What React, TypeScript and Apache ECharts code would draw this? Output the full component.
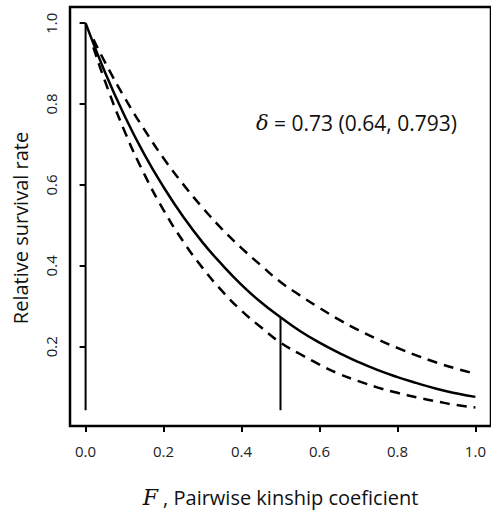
import React, { useEffect, useRef } from "react";
import * as echarts from "echarts";

const kinship = [0, 0.05, 0.1, 0.15, 0.2, 0.25, 0.3, 0.35, 0.4, 0.45, 0.5, 0.55, 0.6, 0.65, 0.7, 0.75, 0.8, 0.85, 0.9, 0.95, 1.0];
const survival = [1.0, 0.878, 0.771, 0.677, 0.595, 0.522, 0.458, 0.403, 0.353, 0.310, 0.273, 0.239, 0.210, 0.185, 0.162, 0.142, 0.125, 0.110, 0.096, 0.085, 0.076];
const ciKinship = [0.02, 0.05, 0.1, 0.15, 0.2, 0.25, 0.3, 0.35, 0.4, 0.45, 0.5, 0.55, 0.6, 0.65, 0.7, 0.75, 0.8, 0.85, 0.9, 0.95, 1.0];
const upperCI = [0.960, 0.903, 0.816, 0.738, 0.666, 0.602, 0.544, 0.491, 0.444, 0.401, 0.360, 0.327, 0.296, 0.267, 0.241, 0.218, 0.197, 0.178, 0.161, 0.146, 0.133];
const lowerCI = [0.940, 0.856, 0.733, 0.628, 0.538, 0.461, 0.395, 0.338, 0.289, 0.248, 0.210, 0.182, 0.156, 0.133, 0.115, 0.099, 0.086, 0.075, 0.065, 0.056, 0.050];
const verticalX = [0, 0.5];
const verticalBottom = 0.043;
const verticalTop = [1.0, 0.273];
const xTicks = [0, 0.2, 0.4, 0.6, 0.8, 1.0];
const yTicks = [0.2, 0.4, 0.6, 0.8, 1.0];

const FONT = "'Open Sans', 'DejaVu Sans', sans-serif";
const SERIF = "'DejaVu Serif', 'Liberation Serif', serif";

export default function App() {
  const ref = useRef<HTMLDivElement>(null);
  useEffect(() => {
    if (!ref.current) return;
    const chart = echarts.init(ref.current, null, { renderer: "svg" });
    const pair = (xs: number[], ys: number[]) => xs.map((x, i) => [x, ys[i]]);
    chart.setOption({
      animation: false,
      backgroundColor: "#ffffff",
      grid: {
        left: 70,
        top: 7,
        width: 424,
        height: 429,
        show: true,
        borderColor: "#000",
        borderWidth: 2.5,
        backgroundColor: "transparent",
      },
      xAxis: {
        type: "value",
        min: -0.04,
        max: 1.04,
        name: "{f|F} , Pairwise kinship coeficient",
        nameLocation: "middle",
        nameGap: 60,
        nameTextStyle: {
          fontFamily: FONT,
          fontSize: 20,
          color: "#111",
          rich: {
            f: { fontFamily: SERIF, fontStyle: "italic", fontSize: 22, color: "#111" },
          },
        },
        splitLine: { show: false },
        axisLine: { show: false },
        axisTick: { show: true, length: 6, inside: false, customValues: xTicks, lineStyle: { color: "#000", width: 2 } },
        axisLabel: {
          customValues: xTicks,
          formatter: (v: number) => v.toFixed(1),
          fontFamily: FONT,
          fontSize: 15,
          color: "#222",
          margin: 17,
        },
      },
      yAxis: {
        type: "value",
        min: 0.004,
        max: 1.04,
        splitLine: { show: false },
        axisLine: { show: false },
        axisTick: { show: true, length: 6, inside: false, customValues: yTicks, lineStyle: { color: "#000", width: 2 } },
        axisLabel: {
          customValues: yTicks,
          rotate: 90,
          formatter: (v: number) => v.toFixed(1),
          fontFamily: FONT,
          fontSize: 15,
          color: "#222",
          margin: 12,
        },
      },
      graphic: [
        {
          type: "text",
          x: 20,
          y: 228,
          rotation: Math.PI / 2,
          style: {
            text: "Relative survival rate",
            fontFamily: FONT,
            fontSize: 20,
            fill: "#111",
            align: "center",
            verticalAlign: "middle",
          },
        },
        {
          type: "text",
          left: 256,
          top: 112,
          style: {
            text: "{d|δ} = 0.73 (0.64, 0.793)",
            fontFamily: FONT,
            fontSize: 21,
            fill: "#111",
            rich: {
              d: { fontFamily: SERIF, fontStyle: "italic", fontSize: 21, color: "#111" },
            },
          },
        },
      ],
      series: [
        {
          type: "line",
          data: pair(kinship, survival),
          smooth: true,
          symbol: "none",
          lineStyle: { color: "#000", width: 2.5 },
        },
        {
          type: "line",
          data: pair(ciKinship, upperCI),
          smooth: true,
          symbol: "none",
          lineStyle: { color: "#000", width: 2.5, type: [10, 7] },
        },
        {
          type: "line",
          data: pair(ciKinship, lowerCI),
          smooth: true,
          symbol: "none",
          lineStyle: { color: "#000", width: 2.5, type: [10, 7] },
        },
        ...verticalX.map((x, i) => ({
          type: "line",
          data: [[x, verticalBottom], [x, verticalTop[i]]],
          symbol: "none",
          lineStyle: { color: "#000", width: 2 },
        })),
      ],
    });
    return () => chart.dispose();
  }, []);
  return <div ref={ref} style={{ position: "fixed", left: 0, top: 0, width: 491, height: 513 }} />;
}
